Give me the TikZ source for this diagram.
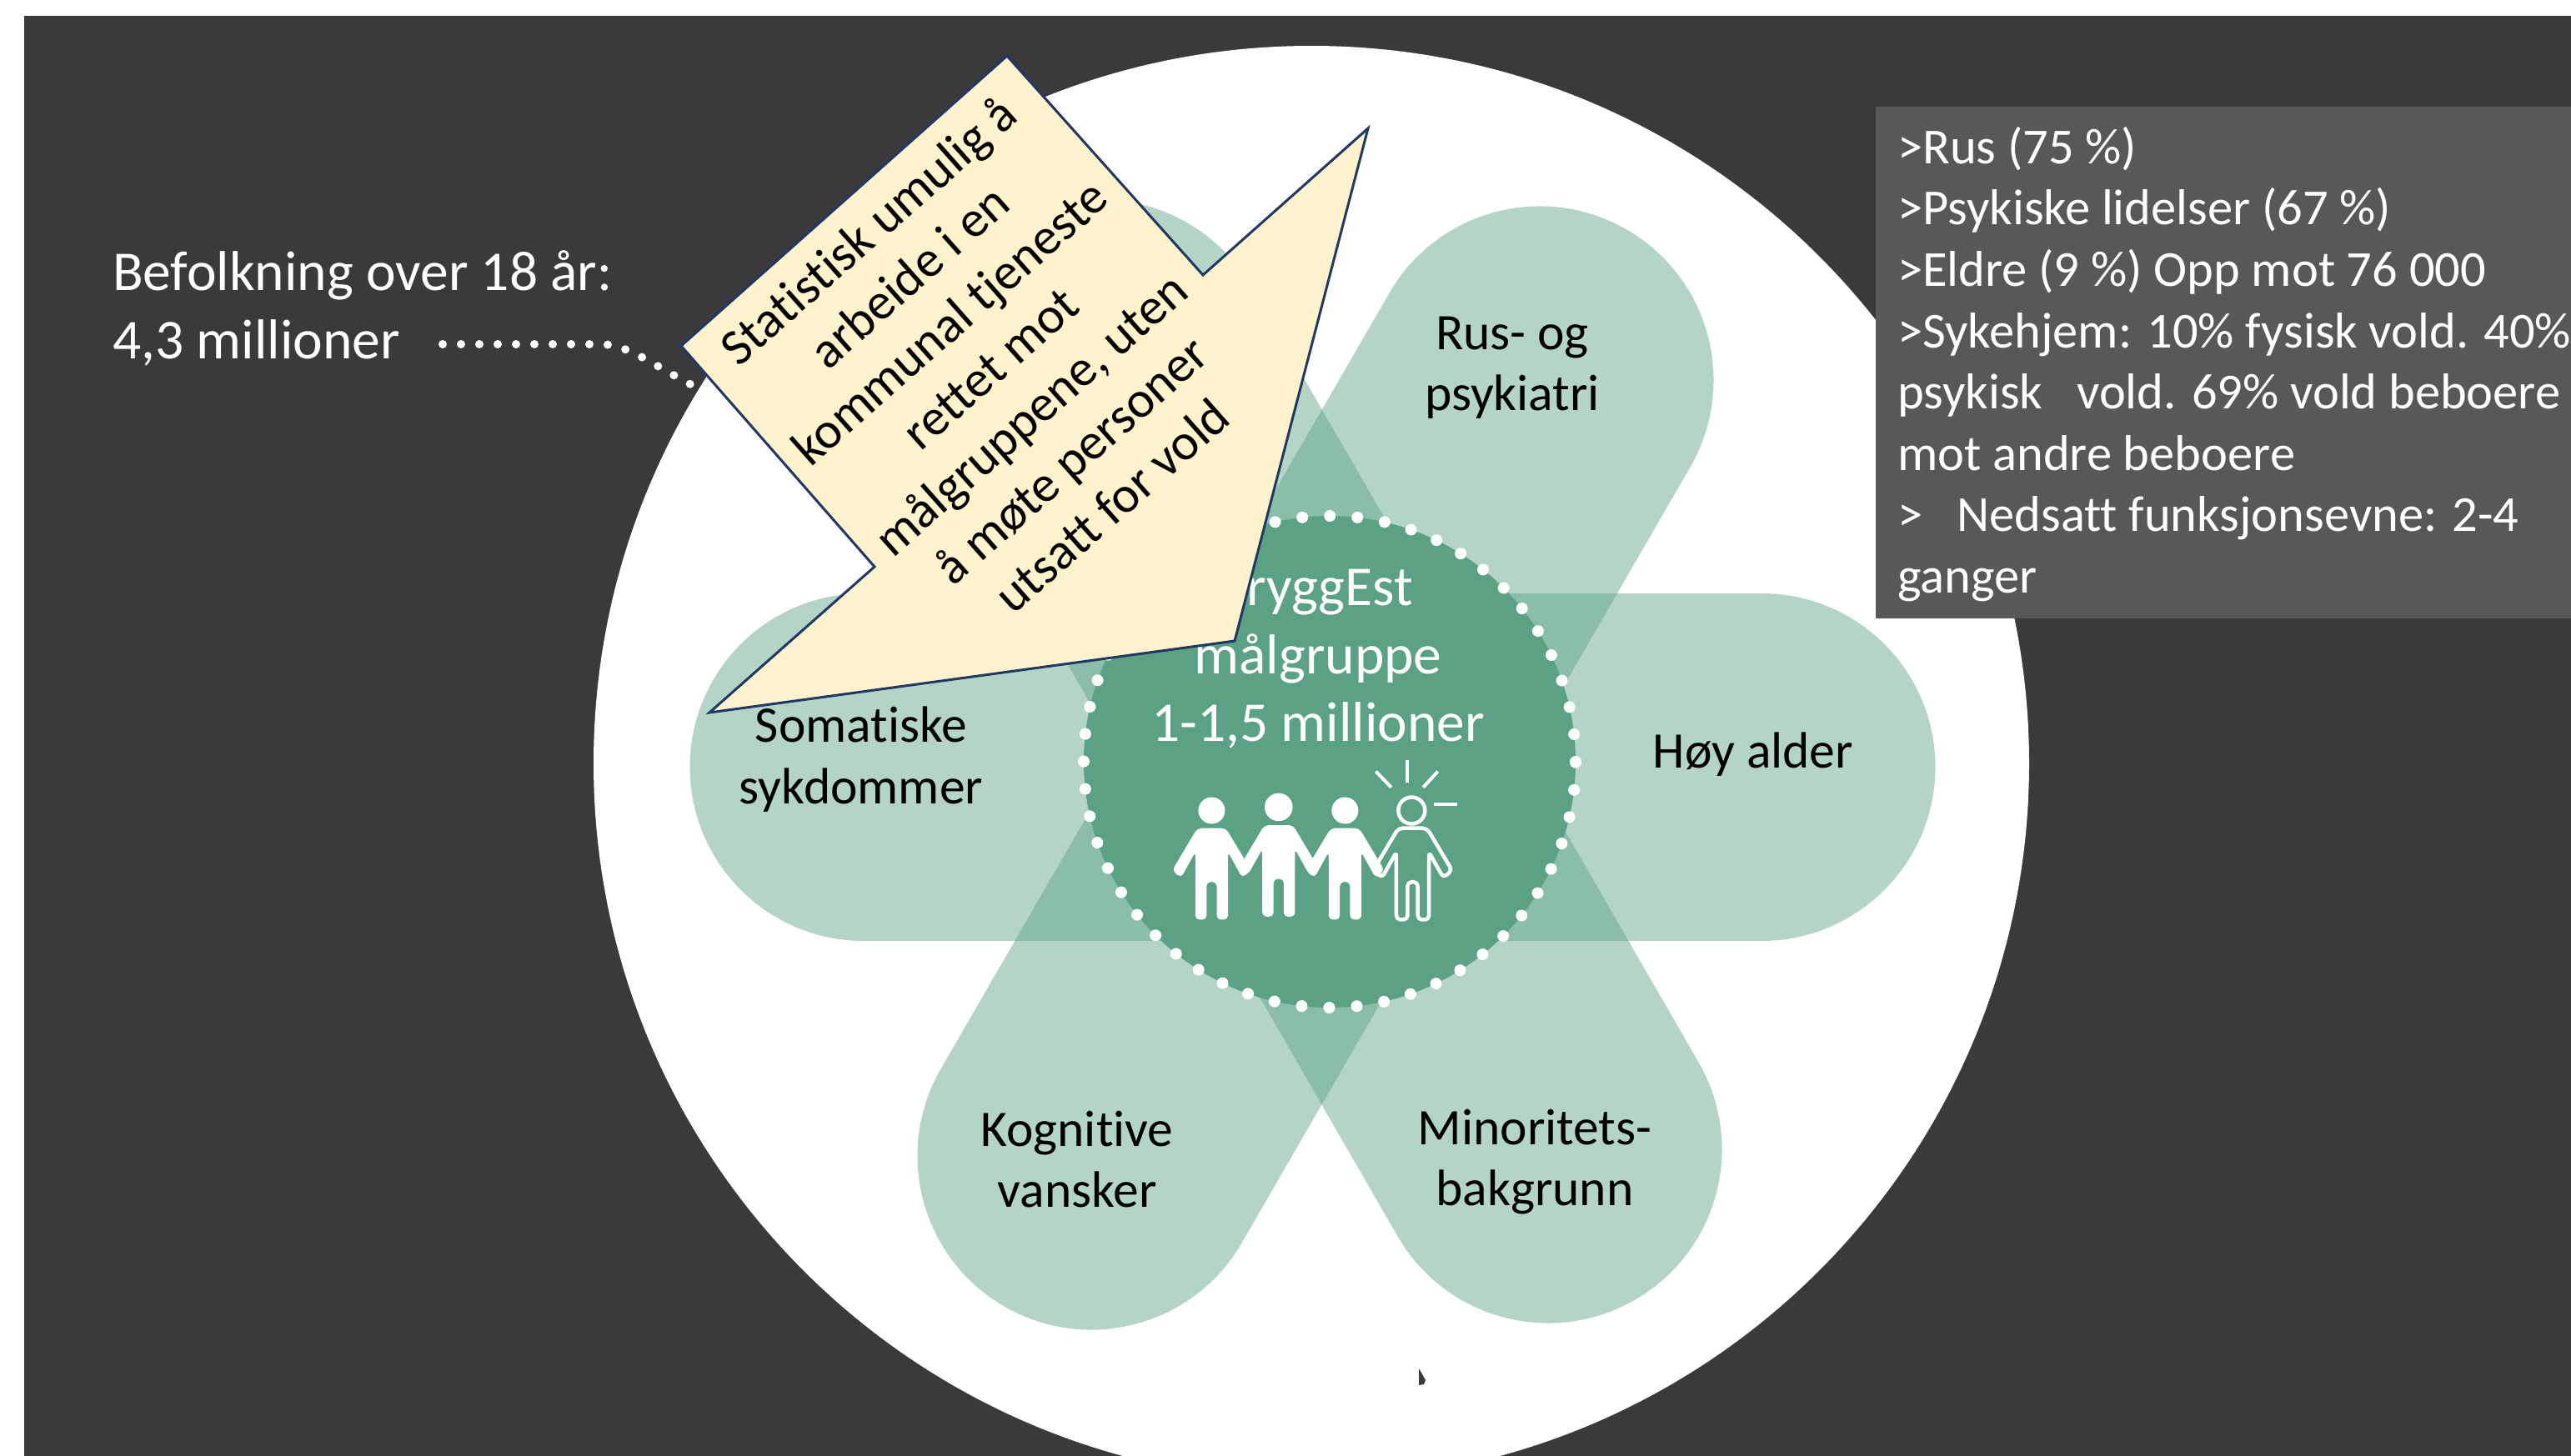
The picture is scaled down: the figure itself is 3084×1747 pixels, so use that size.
\documentclass[tikz,border=0pt]{standalone}
\usepackage{fontspec}
\setmainfont{Carlito}[Ligatures=CommonOff]
\definecolor{bgdark}{HTML}{3B393C}
\definecolor{petal}{HTML}{5AA282}
\definecolor{core}{HTML}{5AA282}
\definecolor{panel}{HTML}{585858}
\definecolor{notefill}{HTML}{FFF2CC}
\definecolor{noteline}{HTML}{1F3864}
\tikzset{
  petalbar/.style={line width=417pt,line cap=round,draw=petal,draw opacity=0.45},
  petaltext/.style={font=\fontsize{61.5}{73.5}\selectfont,text=black,align=center,inner sep=0pt},
  whitetext/.style={font=\fontsize{67.5}{81.5}\selectfont,text=white,inner sep=0pt},
  paneltext/.style={font=\fontsize{60.5}{73.6}\selectfont,text=white,align=left,inner sep=0pt},
  solidfig/.style={fill=white,rounded corners=5pt},
  openfig/.style={draw=white,line width=4.5pt,rounded corners=5pt,line join=round},
  ray/.style={draw=white,line width=4pt},
}
\newcommand{\figbody}[3]{% options, cx, shoulder y
  \path[#1] (#2-42,#3) -- (#2+42,#3) -- (#2+116,#3+124) -- (#2+90,#3+146) -- (#2+48,#3+70)
   -- (#2+48,#3+269) -- (#2+15,#3+269) -- (#2+15,#3+158) -- (#2-15,#3+158) -- (#2-15,#3+269)
   -- (#2-48,#3+269) -- (#2-48,#3+70) -- (#2-90,#3+146) -- (#2-116,#3+124) -- cycle;}
\begin{document}
\begin{tikzpicture}[x=1pt,y=-1pt]
\path[use as bounding box] (0,0) rectangle (3084,1747);
\clip (0,0) rectangle (3084,1747);
\fill[white] (0,0) rectangle (3084,1747);
\fill[bgdark] (29,19) rectangle (3084,1747);
\fill[white] (1573,916) circle[radius=861pt];
% petals
\coordinate (h1) at (1036,920); \coordinate (h2) at (2113,920);
\coordinate (a1) at (1847,456); \coordinate (a2) at (1309,1387);
\coordinate (b1) at (1320,448); \coordinate (b2) at (1857,1379);
\draw[petalbar] (h1) -- (h2);
\draw[petalbar] (a1) -- (a2);
\draw[petalbar] (b1) -- (b2);
% core
\fill[core] (1595,914) circle[radius=295pt];
\draw[white,line width=14pt,line cap=round,dash pattern=on 0pt off 33.09pt] (1595,914) circle[radius=295pt];
% labels
\node[petaltext] (rus) at (1814,441) {Rus- og\\psykiatri};
\node[petaltext] (hoy) at (2103,905) {Høy alder};
\node[petaltext] (som) at (1033,911) {Somatiske\\sykdommer};
\node[petaltext] (kog) at (1292,1391) {Kognitive\\vansker};
\node[petaltext] (min) at (1841,1394) {Minoritets-\\bakgrunn};
\node[whitetext,align=center] (core label) at (1581,791) {TryggEst\\målgruppe\\1-1,5 millioner};
% icon
\begin{scope}[shift={(1280,600)},x=0.408pt,y=-0.408pt]
  \fill[white] (425,913) circle[radius=16pt];
  \fill[white] (622,903) circle[radius=16.8pt];
  \fill[white] (817,913) circle[radius=16pt];
  \draw[white,line width=4.5pt] (1013,913) circle[radius=16pt];
  \figbody{solidfig}{425}{965}
  \figbody{solidfig}{622}{956}
  \figbody{solidfig}{817}{965}
  \figbody{openfig}{1016}{965}
  \draw[ray] (1000,765) -- (1000,830);
  \draw[ray] (908,798) -- (953,845);
  \draw[ray] (1090,798) -- (1047,845);
  \draw[ray] (1078,895) -- (1148,895);
\end{scope}
% left label and leader
\node[whitetext,align=left,anchor=west] (pop) at (135,370) {Befolkning over 18 år:\\4,3 millioner};
\coordinate (leadA) at (531,413);
\coordinate (leadB) at (838,466);
\draw[white,line width=10pt,line cap=round,dash pattern=on 0pt off 22pt]
  (leadA) -- (720,413) .. controls (755,413) and (785,440) .. (leadB);
% panel
\fill[panel] (2250,128) rectangle (3084,742);
\node[paneltext,anchor=west] (facts) at (2276,437) {>Rus (75 \%)\\>Psykiske lidelser (67 \%)\\>Eldre (9 \%) Opp mot 76 000\\>Sykehjem: 10\% fysisk vold. 40\%\\psykisk\ \ \ vold. 69\% vold beboere\\mot andre beboere\\>\ \ \ Nedsatt funksjonsevne: 2-4\\ganger};
% arrow note
\coordinate (p1) at (1208,67);
\coordinate (p2) at (1443,330);
\coordinate (p3) at (1641,154);
\coordinate (p4) at (1481,769);
\coordinate (p5) at (851,855);
\coordinate (p6) at (1049,680);
\coordinate (p7) at (817,415);
\draw[fill=notefill,draw=noteline,line width=3pt,line join=miter] (p1) -- (p2) -- (p3) -- (p4) -- (p5) -- (p6) -- (p7) -- cycle;
\node[petaltext,rotate=41.5] (note) at (1187,441) {Statistisk umulig å\\arbeide i en\\kommunal tjeneste\\rettet mot\\målgruppene, uten\\å møte personer\\utsatt for vold};
% stray mark
\fill[bgdark] (1702,1642) -- (1710,1656) -- (1708,1661) -- (1702,1662) -- cycle;
\end{tikzpicture}
\end{document}
